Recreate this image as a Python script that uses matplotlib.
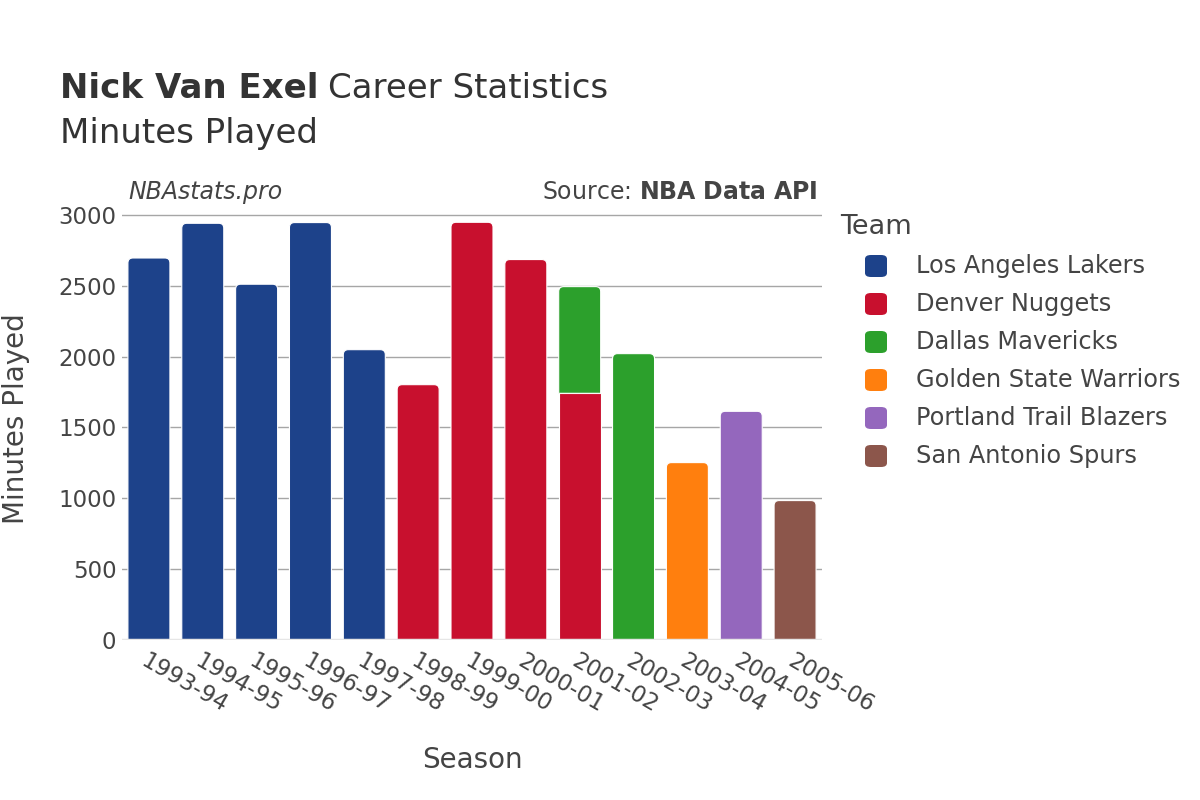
import matplotlib
matplotlib.use("Agg")
import matplotlib.pyplot as plt
import matplotlib.transforms as mtransforms
from matplotlib.path import Path
from matplotlib.patches import PathPatch, FancyBboxPatch

# 데이터
seasons = ['1993-94', '1994-95', '1995-96', '1996-97', '1997-98', '1998-99', '1999-00',
           '2000-01', '2001-02', '2002-03', '2003-04', '2004-05', '2005-06']

teams = ['Los Angeles Lakers', 'Denver Nuggets', 'Dallas Mavericks',
         'Golden State Warriors', 'Portland Trail Blazers', 'San Antonio Spurs']
team_colors = ['#1d428a', '#c8102e', '#2ca02c', '#ff7f0e', '#9467bd', '#8c564b']

lakers_seasons = ['1993-94', '1994-95', '1995-96', '1996-97', '1997-98']
lakers_min = [2696, 2941, 2511, 2946, 2049]
nuggets_seasons = ['1998-99', '1999-00', '2000-01', '2001-02']
nuggets_min = [1802, 2948, 2685, 1741]
mavs_seasons = ['2001-02', '2002-03']
mavs_min = [753, 2021]
warriors_seasons = ['2003-04']
warriors_min = [1252]
blazers_seasons = ['2004-05']
blazers_min = [1614]
spurs_seasons = ['2005-06']
spurs_min = [984]

team_data = [
    (lakers_seasons, lakers_min),
    (nuggets_seasons, nuggets_min),
    (mavs_seasons, mavs_min),
    (warriors_seasons, warriors_min),
    (blazers_seasons, blazers_min),
    (spurs_seasons, spurs_min),
]

text_color = '#444444'
plt.rcParams['font.family'] = ['DejaVu Sans']

fig = plt.figure(figsize=(12, 8), dpi=100)
ax = fig.add_axes([122 / 1200, 1 - 640 / 800, 700 / 1200, 435 / 800])
ax.set_xlim(-0.5, len(seasons) - 0.5)
ax.set_ylim(0, 3070)

# 막대 그리기 (팀 순서대로 쌓기)
bottoms = {s: 0 for s in seasons}
top_bar = {}
for (s_list, m_list), color in zip(team_data, team_colors):
    xs = [seasons.index(s) for s in s_list]
    bots = [bottoms[s] for s in s_list]
    bars = ax.bar(xs, m_list, bottom=bots, width=0.78, color=color,
                  edgecolor='white', linewidth=0.8, zorder=2)
    for s, m, b in zip(s_list, m_list, bars):
        bottoms[s] += m
        top_bar[s] = b


# 맨 위 막대 모서리 둥글게
def round_top(ax, bar, r_px=5):
    x0, w, y0, h = bar.get_x(), bar.get_width(), bar.get_y(), bar.get_height()
    inv = ax.transData.inverted()
    p0 = inv.transform((0, 0))
    p1 = inv.transform((r_px, r_px))
    rx, ry = p1[0] - p0[0], p1[1] - p0[1]
    x1, top = x0 + w, y0 + h
    verts = [(x0, y0), (x1, y0), (x1, top - ry), (x1, top), (x1 - rx, top),
             (x0 + rx, top), (x0, top), (x0, top - ry), (x0, y0)]
    codes = [Path.MOVETO, Path.LINETO, Path.LINETO, Path.CURVE3, Path.CURVE3,
             Path.LINETO, Path.CURVE3, Path.CURVE3, Path.CLOSEPOLY]
    patch = PathPatch(Path(verts, codes), facecolor=bar.get_facecolor(),
                      edgecolor='white', linewidth=0.8, zorder=2)
    bar.remove()
    ax.add_patch(patch)


for s in seasons:
    round_top(ax, top_bar[s])

# 축 설정
ax.set_yticks(range(0, 3001, 500))
ax.set_xticks(range(len(seasons)))
ax.set_xticklabels(seasons, rotation=-30, ha='left', va='top',
                   rotation_mode='anchor', fontsize=16.5, color=text_color)
shift = mtransforms.ScaledTranslation(4 / 100, 0, fig.dpi_scale_trans)
for lbl in ax.get_xticklabels():
    lbl.set_transform(lbl.get_transform() + shift)
for lbl in ax.get_yticklabels():
    lbl.set_fontsize(16.5)
    lbl.set_color(text_color)
ax.tick_params(axis='both', length=0)
ax.tick_params(axis='x', pad=7)
ax.tick_params(axis='y', pad=4)
ax.grid(axis='y', color='#a6a6a6', linewidth=1, zorder=0)
ax.axhline(0, color='#e6e6e6', linewidth=2.5, zorder=3)
for sp in ax.spines.values():
    sp.set_visible(False)

# 축 제목
fig.text(472 / 1200, 1 - 760 / 800, 'Season', fontsize=20, color=text_color,
         va='center', ha='center')
fig.text(16 / 1200, 1 - 419 / 800, 'Minutes Played', fontsize=20, color=text_color,
         va='center', ha='center', rotation=90)

# 제목
fig.text(60 / 1200, 1 - 89 / 800, 'Nick Van Exel', fontsize=24.5, fontweight='bold',
         color='#333333', va='center', ha='left')
fig.text(328 / 1200, 1 - 89 / 800, 'Career Statistics', fontsize=24.5,
         color='#333333', va='center', ha='left')
fig.text(60 / 1200, 1 - 133 / 800, 'Minutes Played', fontsize=24.5,
         color='#333333', va='center', ha='left')

fig.text(128 / 1200, 1 - 192 / 800, 'NBAstats.pro', fontsize=17, style='italic',
         color=text_color, va='center', ha='left')
fig.text(818 / 1200, 1 - 192 / 800, 'Source: $\\bf{NBA\\ Data\\ API}$', fontsize=17,
         color=text_color, va='center', ha='right')

# 범례
fig.text(840 / 1200, 1 - 227 / 800, 'Team', fontsize=19.5, color=text_color,
         va='center', ha='left')
for i, (team, color) in enumerate(zip(teams, team_colors)):
    yc = 266 + 38 * i
    fig.patches.append(FancyBboxPatch(
        (865 / 1200, 1 - (yc + 11) / 800), 22 / 1200, 22 / 800,
        boxstyle='round,pad=0,rounding_size=0.005', transform=fig.transFigure,
        facecolor=color, edgecolor='none', figure=fig))
    fig.text(916 / 1200, 1 - yc / 800, team, fontsize=17.3, color=text_color,
             va='center', ha='left')

plt.savefig('out.png', dpi=100)
